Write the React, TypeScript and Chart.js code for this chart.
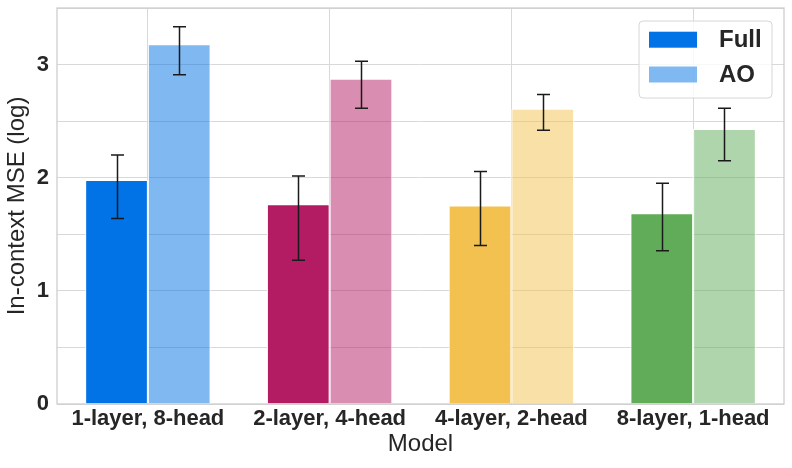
import React, { useEffect, useRef } from "react";
import { Chart, registerables } from "chart.js";

Chart.register(...registerables);

const categories = ["1-layer, 8-head", "2-layer, 4-head", "4-layer, 2-head", "8-layer, 1-head"];
const seriesNames = ["Full", "AO"];
const fullMean = [1.98, 1.765, 1.755, 1.685];
const fullLow = [1.64, 1.27, 1.4, 1.355];
const fullHigh = [2.2, 2.015, 2.055, 1.95];
const aoMean = [3.18, 2.875, 2.61, 2.43];
const aoLow = [2.91, 2.615, 2.42, 2.15];
const aoHigh = [3.335, 3.03, 2.735, 2.615];
const baseColors = ["#0173E6", "#B31B62", "#F2C14F", "#60AC59"];
const yTickValues = [0, 1, 2, 3];

const FONT = "'Liberation Sans', Arial, Helvetica, sans-serif";

function withAlpha(hex: string, a: number) {
  const r = parseInt(hex.slice(1, 3), 16);
  const g = parseInt(hex.slice(3, 5), 16);
  const b = parseInt(hex.slice(5, 7), 16);
  return `rgba(${r},${g},${b},${a})`;
}

const errLow = [fullLow, aoLow];
const errHigh = [fullHigh, aoHigh];

const errorBarPlugin = {
  id: "errorBars",
  afterDatasetsDraw(chart: any) {
    const ctx = chart.ctx;
    const yScale = chart.scales.y;
    ctx.save();
    ctx.strokeStyle = "#1a1a1a";
    ctx.lineWidth = 1.5;
    chart.data.datasets.forEach((_ds: any, d: number) => {
      const meta = chart.getDatasetMeta(d);
      meta.data.forEach((bar: any, i: number) => {
        const x = Math.round(bar.x) + 0.5;
        const yl = yScale.getPixelForValue(errLow[d][i]);
        const yh = yScale.getPixelForValue(errHigh[d][i]);
        const cap = 6.5;
        ctx.beginPath();
        ctx.moveTo(x, yl);
        ctx.lineTo(x, yh);
        ctx.moveTo(x - cap, yl);
        ctx.lineTo(x + cap, yl);
        ctx.moveTo(x - cap, yh);
        ctx.lineTo(x + cap, yh);
        ctx.stroke();
      });
    });
    ctx.restore();
  },
};

const framePlugin = {
  id: "frameAndLegend",
  afterDraw(chart: any) {
    const ctx = chart.ctx;
    const a = chart.chartArea;
    ctx.save();
    ctx.strokeStyle = "#cccccc";
    ctx.lineWidth = 1.25;
    ctx.strokeRect(a.left, a.top, a.right - a.left, a.bottom - a.top);

    // legend inside the plot (upper right)
    const w = 133;
    const h = 77;
    const left = a.right - 145;
    const top = a.top + 13;
    ctx.beginPath();
    const r = 4;
    ctx.moveTo(left + r, top);
    ctx.lineTo(left + w - r, top);
    ctx.arcTo(left + w, top, left + w, top + r, r);
    ctx.lineTo(left + w, top + h - r);
    ctx.arcTo(left + w, top + h, left + w - r, top + h, r);
    ctx.lineTo(left + r, top + h);
    ctx.arcTo(left, top + h, left, top + h - r, r);
    ctx.lineTo(left, top + r);
    ctx.arcTo(left, top, left + r, top, r);
    ctx.closePath();
    ctx.fillStyle = "rgba(255,255,255,0.8)";
    ctx.fill();
    ctx.strokeStyle = "#d6d6d6";
    ctx.lineWidth = 1;
    ctx.stroke();

    const centers = [top + 18.7, top + 53.5];
    ctx.font = `bold 24px ${FONT}`;
    ctx.textBaseline = "middle";
    ctx.textAlign = "left";
    chart.data.datasets.forEach((ds: any, d: number) => {
      const c = centers[d];
      ctx.fillStyle = d === 0 ? baseColors[0] : withAlpha(baseColors[0], 0.5);
      ctx.fillRect(left + 10, c - 8, 48, 16);
      ctx.fillStyle = "#262626";
      ctx.fillText(ds.label, left + 80, c + 1);
    });
    ctx.restore();
  },
};

export default function App() {
  const ref = useRef<HTMLCanvasElement | null>(null);
  useEffect(() => {
    document.body.style.margin = "0";
    const canvas = ref.current!;
    const chart = new Chart(canvas, {
      type: "bar",
      data: {
        labels: categories,
        datasets: [
          {
            label: seriesNames[0],
            data: fullMean,
            backgroundColor: baseColors,
            borderColor: "#ffffff",
            borderWidth: 1,
            borderSkipped: "start",
          },
          {
            label: seriesNames[1],
            data: aoMean,
            backgroundColor: baseColors.map((c) => withAlpha(c, 0.5)),
            borderColor: "#ffffff",
            borderWidth: 1,
            borderSkipped: "start",
          },
        ],
      },
      options: {
        animation: false,
        responsive: false,
        devicePixelRatio: 1,
        categoryPercentage: 0.69,
        barPercentage: 1.0,
        layout: { padding: { top: 8, right: 8, left: 0, bottom: 0 } },
        plugins: {
          legend: { display: false },
          tooltip: { enabled: false },
        },
        scales: {
          x: {
            type: "category",
            offset: true,
            afterFit(scale: any) {
              scale.height = 64;
              scale.paddingLeft = 0;
              scale.paddingRight = 0;
            },
            grid: { color: "#d9d9d9", lineWidth: 1, drawTicks: false, offset: false },
            border: { display: false },
            ticks: {
              autoSkip: false,
              maxRotation: 0,
              padding: 2,
              color: "#262626",
              font: { family: FONT, size: 22, weight: "bold" },
            },
            title: {
              display: true,
              text: "Model",
              color: "#262626",
              font: { family: FONT, size: 24 },
              padding: { top: 0, bottom: 9 },
            },
          },
          y: {
            min: 0,
            max: 3.5,
            afterFit(scale: any) {
              scale.width = 57;
              scale.paddingTop = 0;
              scale.paddingBottom = 0;
            },
            grid: { color: "#d9d9d9", lineWidth: 1, drawTicks: false },
            border: { display: false },
            ticks: {
              stepSize: 0.5,
              padding: 8,
              color: "#262626",
              font: { family: FONT, size: 22, weight: "bold" },
              callback: (v: any) => (yTickValues.includes(v) ? String(v) : ""),
            },
            title: {
              display: true,
              text: "In-context MSE (log)",
              color: "#262626",
              font: { family: FONT, size: 24 },
              padding: { top: 3, bottom: 0 },
            },
          },
        },
      } as any,
      plugins: [errorBarPlugin, framePlugin],
    });
    return () => chart.destroy();
  }, []);
  return <canvas ref={ref} width={792} height={468} style={{ display: "block" }} />;
}
